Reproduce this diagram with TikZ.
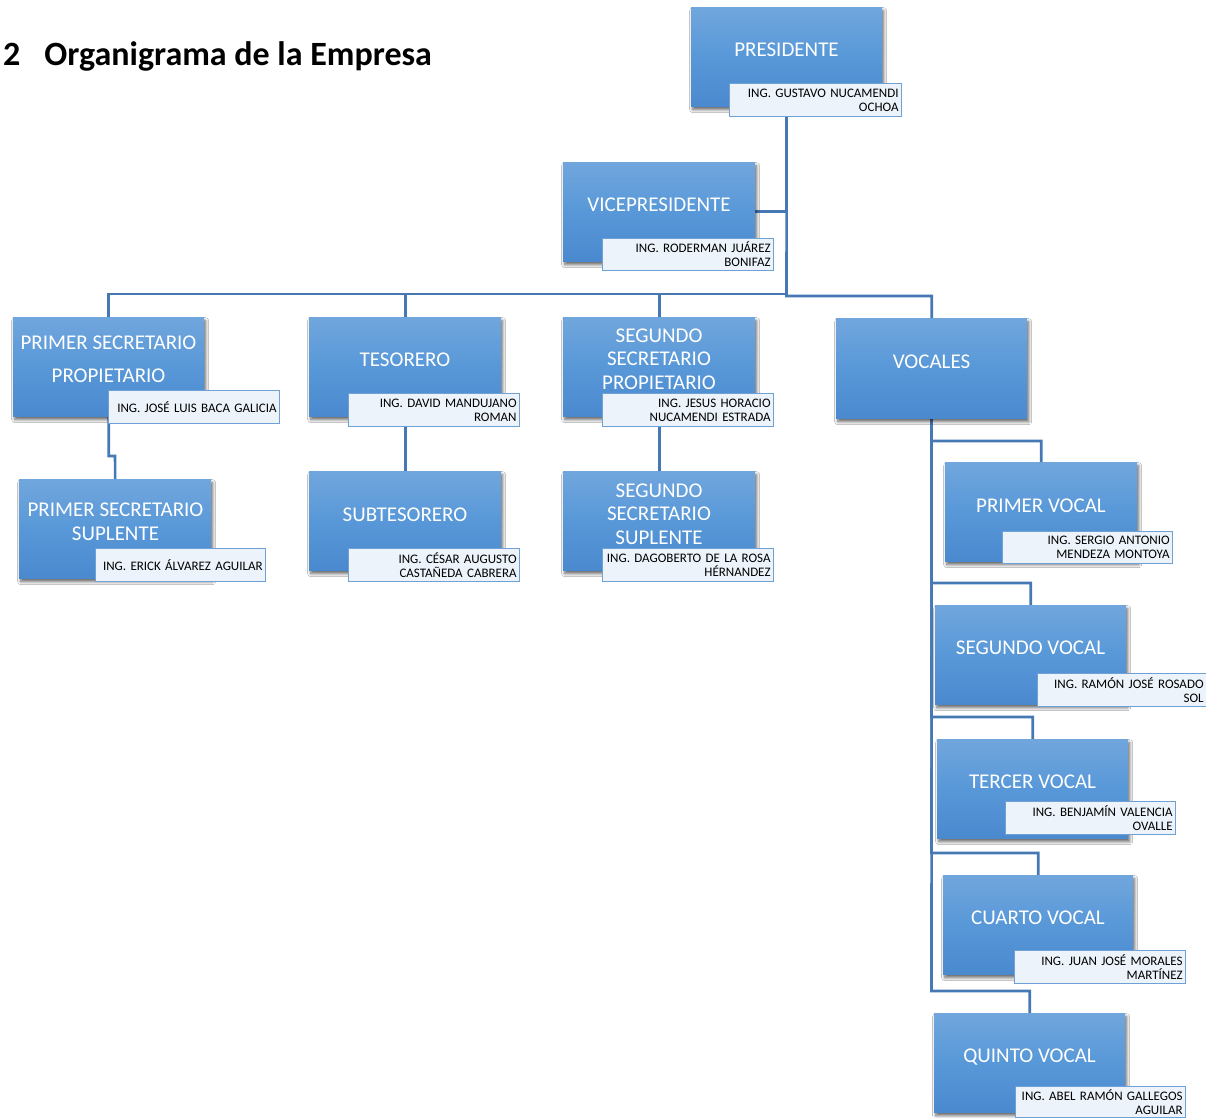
\documentclass[tikz,border=0pt]{standalone}
\usepackage{fontspec}
\setmainfont{Carlito}
\usetikzlibrary{shadows.blur,backgrounds}
\definecolor{boxtop}{RGB}{113,166,221}
\definecolor{boxmid}{RGB}{88,152,216}
\definecolor{boxbot}{RGB}{74,137,206}
\definecolor{lblline}{RGB}{112,161,214}
\definecolor{lblfill}{RGB}{236,243,251}
\definecolor{connc}{RGB}{70,120,180}
\newcommand\mybox[5]{%
  \pgfmathsetmacro\myboxW{#4-#2}\pgfmathsetmacro\myboxH{#5-#3}%
  \node[mainbox, minimum width=\myboxW pt, minimum height=\myboxH pt] (#1) at (#2,#3) {};}
\newcommand\mylbl[6]{%
  \pgfmathsetmacro\mylblW{#4-#2}\pgfmathsetmacro\mylblH{#5-#3}\pgfmathsetmacro\mylblT{#4-#2-6}%
  \node[lblbox, minimum width=\mylblW pt, minimum height=\mylblH pt, text width=\mylblT pt] (#1) at (#2,#3) {#6};}
\begin{document}
\begin{tikzpicture}[x=1pt,y=-1pt,
  mainbox/.style={anchor=north west, inner sep=0pt, top color=boxtop, bottom color=boxbot, middle color=boxmid,
    blur shadow={shadow xshift=1.5pt,shadow yshift=-3.5pt,shadow blur radius=3pt,shadow blur steps=6,shadow opacity=60}},
  maintext/.style={text=white, font=\fontsize{21}{23.5}\selectfont, align=center, inner sep=0pt, anchor=base},
  lblbox/.style={anchor=north west, draw=lblline, line width=1.2pt, fill=lblfill, inner xsep=3pt, inner ysep=0pt,
    align=right, font=\fontsize{13}{14}\selectfont, text=black},
  cline/.style={draw=connc, line width=2.6pt}]
\useasboundingbox (0,0) rectangle (1206,1117);

\node[anchor=base west, inner sep=0pt, font=\fontsize{34}{40}\selectfont\bfseries] (title) at (3,65) {2\hspace*{24pt}Organigrama de la Empresa};

% main boxes
\mybox{pres}{691}{7}{882}{106}
\mybox{vice}{563}{162}{755}{261}
\mybox{ps1}{13}{317}{204}{416}
\mybox{tes}{309}{317}{501}{416}
\mybox{seg}{563}{317}{755}{416}
\mybox{voc}{836}{318}{1027}{418}
\mybox{ps2}{19}{479}{211}{578}
\mybox{sub}{309}{471}{501}{570}
\mybox{seg2}{563}{471}{755}{570}
\mybox{v1}{945}{462}{1137}{561}
\mybox{v2}{935}{605}{1126}{704}
\mybox{v3}{937}{739}{1128}{838}
\mybox{v4}{943}{875}{1133}{974}
\mybox{v5}{934}{1013}{1125}{1112}

% main texts (base = baseline of last line)
\node[maintext] (presT) at (786.5,56) {PRESIDENTE};
\node[maintext] (viceT) at (659,211) {VICEPRESIDENTE};
\node[maintext] (ps1T) at (108.5,382) {PRIMER SECRETARIO\\[9.5pt]PROPIETARIO};
\node[maintext] (tesT) at (405,366) {TESORERO};
\node[maintext] (segT) at (659,389) {SEGUNDO\\SECRETARIO\\PROPIETARIO};
\node[maintext] (vocT) at (931.5,368) {VOCALES};
\node[maintext] (ps2T) at (115.5,540) {PRIMER SECRETARIO\\SUPLENTE};
\node[maintext] (subT) at (405,521) {SUBTESORERO};
\node[maintext] (seg2T) at (659,544) {SEGUNDO\\SECRETARIO\\SUPLENTE};
\node[maintext] (v1T) at (1041,512) {PRIMER VOCAL};
\node[maintext] (v2T) at (1030.5,654) {SEGUNDO VOCAL};
\node[maintext] (v3T) at (1032.5,788) {TERCER VOCAL};
\node[maintext] (v4T) at (1038,924) {CUARTO VOCAL};
\node[maintext] (v5T) at (1029.5,1062) {QUINTO VOCAL};

% name labels
\mylbl{presL}{729}{83}{901}{116}{ING. GUSTAVO NUCAMENDI\\OCHOA}
\mylbl{viceL}{602}{238}{773}{270}{ING. RODERMAN JUÁREZ\\BONIFAZ}
\mylbl{ps1L}{108}{390}{279}{423}{ING. JOSÉ LUIS BACA GALICIA}
\mylbl{tesL}{348}{393}{519}{426}{ING. DAVID MANDUJANO\\ROMAN}
\mylbl{segL}{602}{393}{773}{426}{ING. JESUS HORACIO\\NUCAMENDI ESTRADA}
\mylbl{ps2L}{95}{548}{265}{581}{ING. ERICK ÁLVAREZ AGUILAR}
\mylbl{subL}{348}{548}{519}{581}{ING. CÉSAR AUGUSTO\\CASTAÑEDA CABRERA}
\mylbl{seg2L}{602}{548}{773}{581}{ING. DAGOBERTO DE LA ROSA\\HÉRNANDEZ}
\mylbl{v1L}{1002}{531}{1172}{563}{ING. SERGIO ANTONIO\\MENDEZA MONTOYA}
\mylbl{v2L}{1037}{673}{1206}{706}{ING. RAMÓN JOSÉ ROSADO\\SOL}
\mylbl{v3L}{1005}{801}{1175}{834}{ING. BENJAMÍN VALENCIA\\OVALLE}
\mylbl{v4L}{1014}{950}{1185}{983}{ING. JUAN JOSÉ MORALES\\MARTÍNEZ}
\mylbl{v5L}{1015}{1086}{1185}{1117}{ING. ABEL RAMÓN GALLEGOS\\AGUILAR}

% connectors
\begin{scope}[on background layer]
\fill[white] (0,0) rectangle (1206,1117);
\coordinate (bus) at (786.5,294);
\coordinate (vbus) at (786.5,296);
\coordinate (jog) at (115,456);
\coordinate (e1) at (931.5,441);
\coordinate (e2) at (931.5,583);
\coordinate (e3) at (931.5,717);
\coordinate (e4) at (931.5,853);
\coordinate (e5) at (931.5,991);
\draw[cline] (pres.center) |- (vice.east);
\draw[cline] (pres.center) -- (vbus) -| (voc.north);
\draw[cline] (bus) -| (ps1.north);
\draw[cline] (bus) -| (tes.north);
\draw[cline] (bus) -| (seg.north);
\draw[cline] (ps1.center) |- (jog) -- (ps2.north);
\draw[cline] (tes.center) -- (sub.north);
\draw[cline] (seg.center) -- (seg2.north);
\draw[cline] (voc.center) -- (e1) -| (v1.north);
\draw[cline] (voc.center) -- (e2) -| (v2.north);
\draw[cline] (voc.center) -- (e3) -| (v3.north);
\draw[cline] (voc.center) -- (e4) -| (v4.north);
\draw[cline] (voc.center) -- (e5) -| (v5.north);
\end{scope}
\end{tikzpicture}
\end{document}
